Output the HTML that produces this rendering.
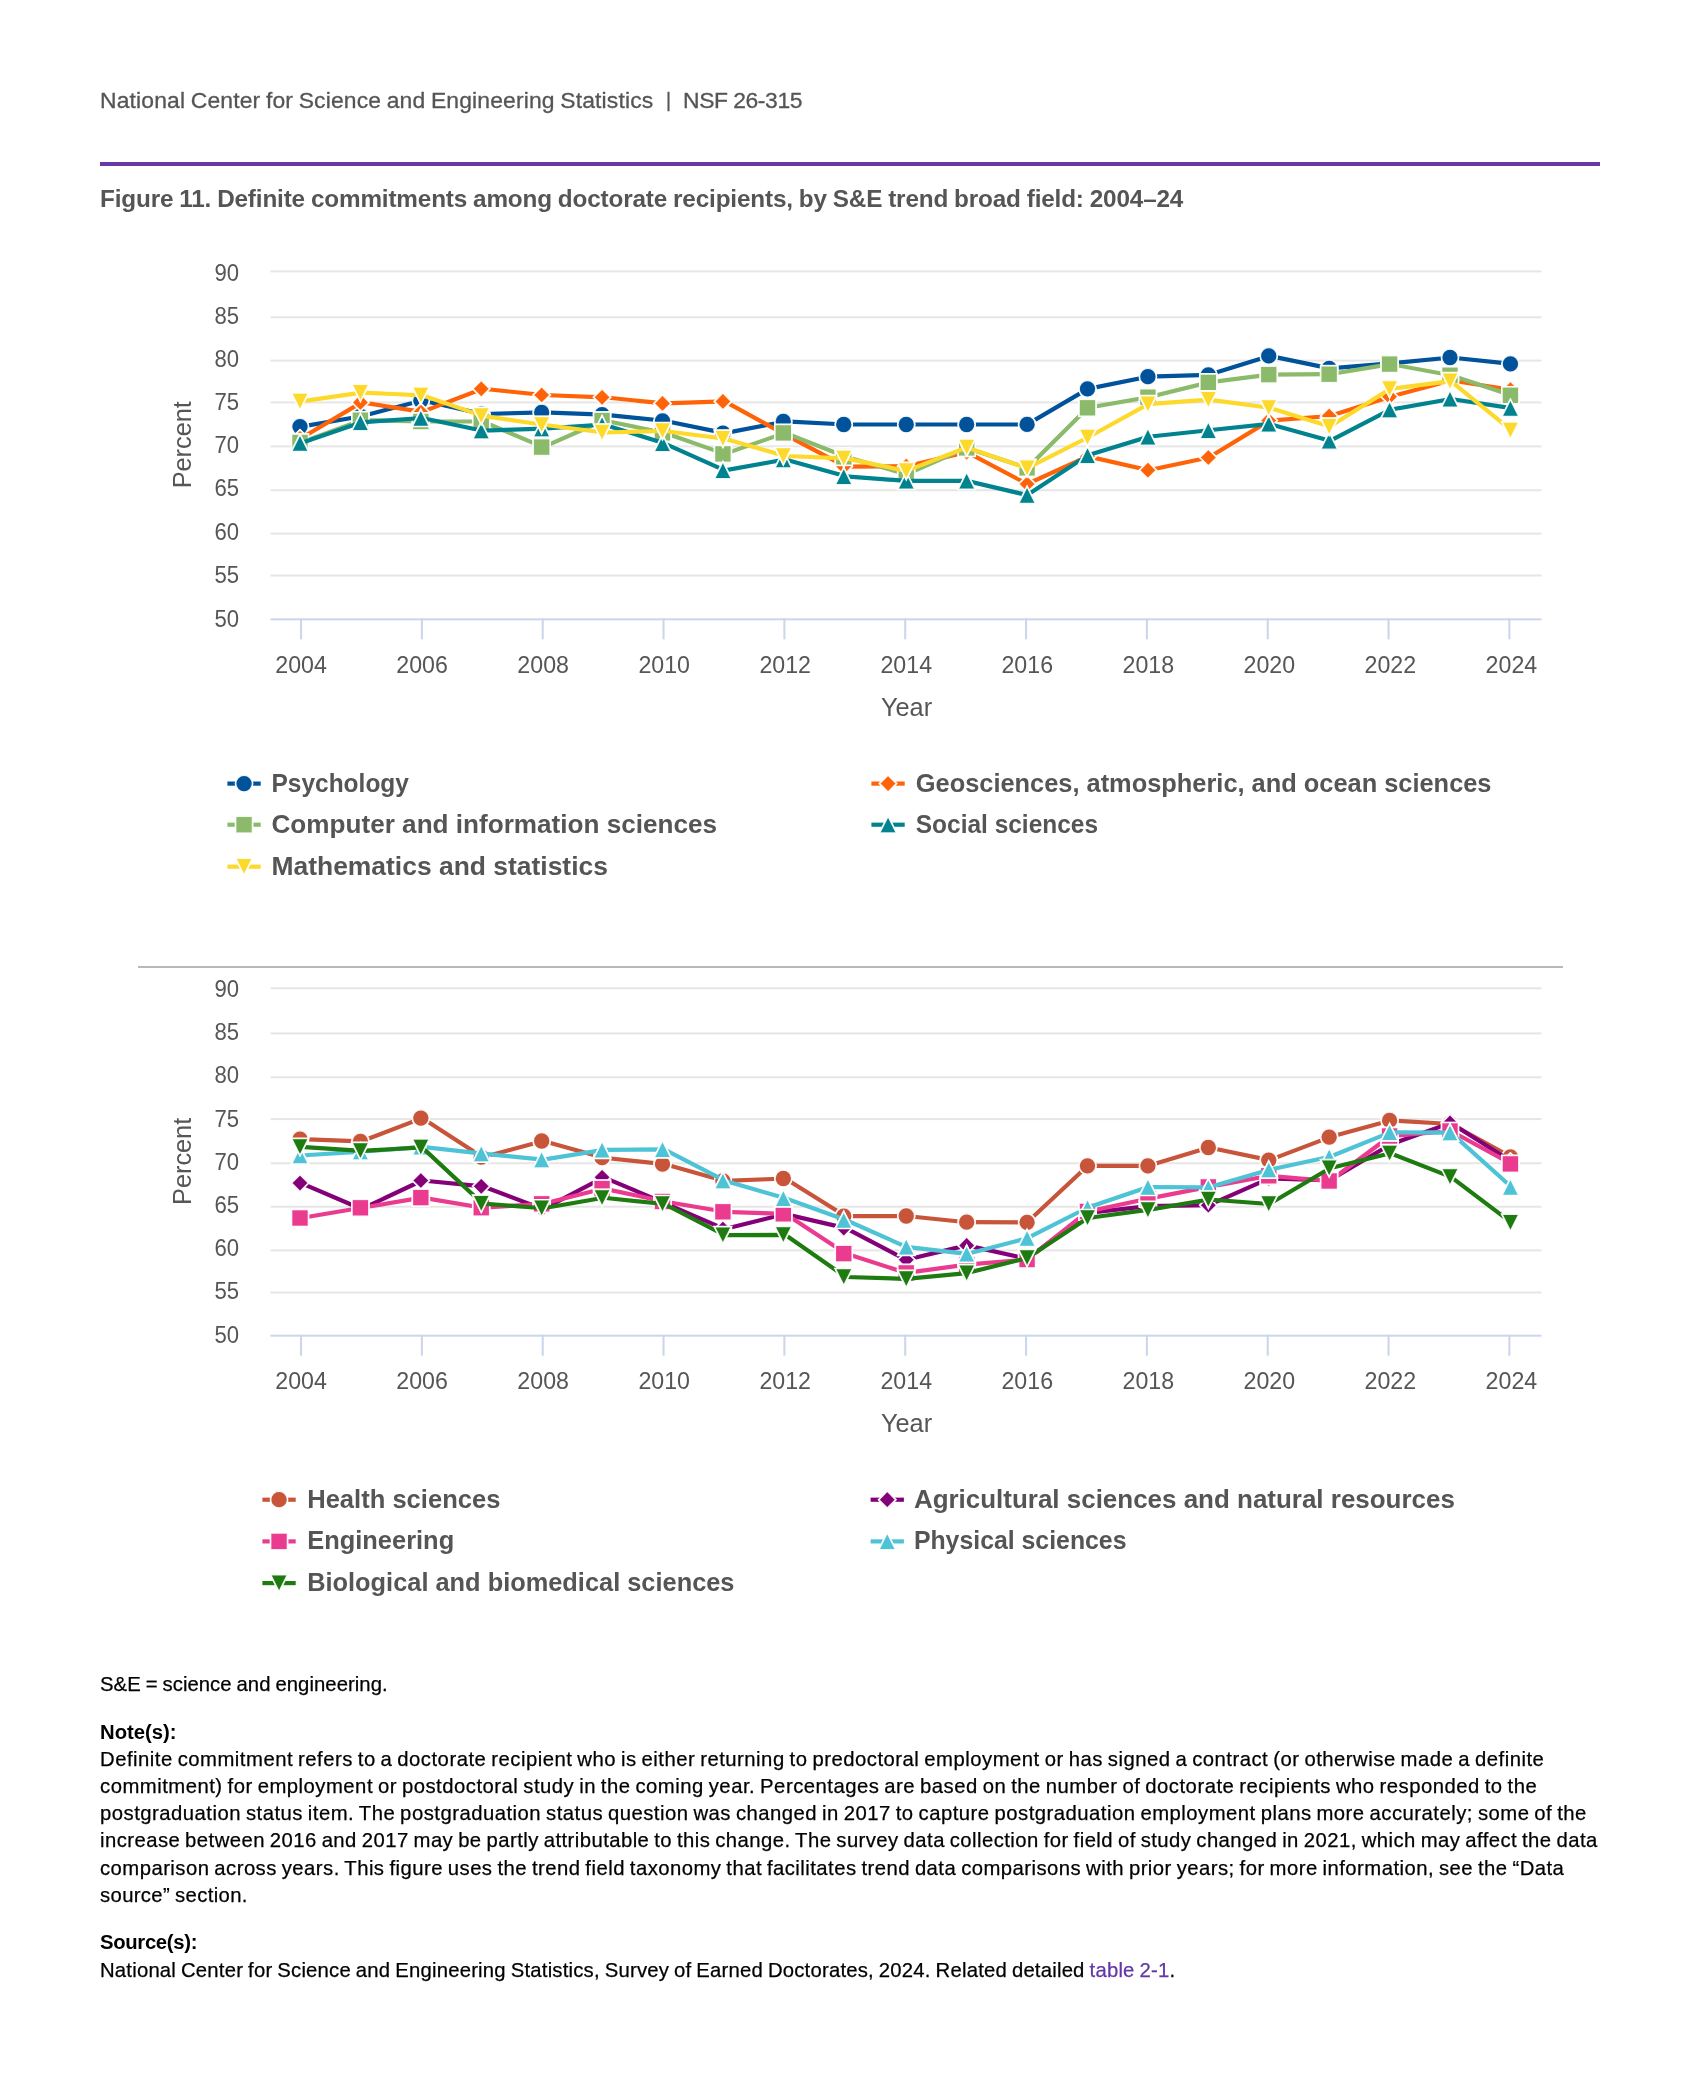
<!DOCTYPE html>
<html lang="en"><head><meta charset="utf-8"><title>Figure 11</title>
<style>
html,body{margin:0;padding:0;background:#fff}
body{width:1699px;height:2090px;position:relative;overflow:hidden;font-family:"Liberation Sans", sans-serif}
.x{position:absolute;margin:0;white-space:nowrap;line-height:1;font-weight:400;will-change:transform}
.n{font-size:20.3px;color:#000;-webkit-text-stroke:0.25px #000}
.nb{font-size:20.3px;color:#000;font-weight:700}
.h{font-size:22.9px;color:#555;-webkit-text-stroke:0.3px #555}
.t{font-size:24.3px;color:#555;font-weight:700}
.hb{font-size:19.3px;color:#555;-webkit-text-stroke:0.3px #555}
a{color:#6236a6;text-decoration:none;-webkit-text-stroke:0.25px #6236a6}
.rule{position:absolute;left:100px;top:162px;width:1500px;height:4px;background:#6639a6}
.sep{position:absolute;left:137.5px;top:965.95px;width:1425px;height:2.08px;background:#b8b8b8}
svg{position:absolute;left:0;top:0;will-change:transform}
svg text{font-family:"Liberation Sans", sans-serif}
.hl{fill:#fff;stroke:#fff;stroke-width:2.08}
.mk{stroke:#fff;stroke-opacity:.88;stroke-width:1.35}
.al{font-size:23.7px;fill:#565656}
.at{font-size:25.5px;fill:#565656}
.lg{font-size:25.6px;font-weight:700;fill:#555}
</style></head><body>
<div class="rule"></div>
<div class="sep"></div>
<svg width="1699" height="2090" viewBox="0 0 1699 2090">
<rect x="270.5" y="270.40" width="1271" height="2" fill="#e6e6e6"/>
<rect x="270.5" y="316.30" width="1271" height="2" fill="#e6e6e6"/>
<rect x="270.5" y="359.60" width="1271" height="2" fill="#e6e6e6"/>
<rect x="270.5" y="401.45" width="1271" height="2" fill="#e6e6e6"/>
<rect x="270.5" y="445.40" width="1271" height="2" fill="#e6e6e6"/>
<rect x="270.5" y="489.20" width="1271" height="2" fill="#e6e6e6"/>
<rect x="270.5" y="532.60" width="1271" height="2" fill="#e6e6e6"/>
<rect x="270.5" y="574.50" width="1271" height="2" fill="#e6e6e6"/>
<rect x="270.5" y="618.35" width="1271" height="2" fill="#ccd6eb"/>
<rect x="300.00" y="618.35" width="2.08" height="21" fill="#ccd6eb"/>
<rect x="420.84" y="618.35" width="2.08" height="21" fill="#ccd6eb"/>
<rect x="541.67" y="618.35" width="2.08" height="21" fill="#ccd6eb"/>
<rect x="662.50" y="618.35" width="2.08" height="21" fill="#ccd6eb"/>
<rect x="783.34" y="618.35" width="2.08" height="21" fill="#ccd6eb"/>
<rect x="904.17" y="618.35" width="2.08" height="21" fill="#ccd6eb"/>
<rect x="1025.00" y="618.35" width="2.08" height="21" fill="#ccd6eb"/>
<rect x="1145.84" y="618.35" width="2.08" height="21" fill="#ccd6eb"/>
<rect x="1266.67" y="618.35" width="2.08" height="21" fill="#ccd6eb"/>
<rect x="1387.50" y="618.35" width="2.08" height="21" fill="#ccd6eb"/>
<rect x="1508.34" y="618.35" width="2.08" height="21" fill="#ccd6eb"/>
<text x="239" y="280.60" text-anchor="end" class="al" textLength="24.6" lengthAdjust="spacingAndGlyphs">90</text>
<text x="239" y="323.60" text-anchor="end" class="al" textLength="24.6" lengthAdjust="spacingAndGlyphs">85</text>
<text x="239" y="366.80" text-anchor="end" class="al" textLength="24.6" lengthAdjust="spacingAndGlyphs">80</text>
<text x="239" y="410.00" text-anchor="end" class="al" textLength="24.6" lengthAdjust="spacingAndGlyphs">75</text>
<text x="239" y="453.40" text-anchor="end" class="al" textLength="24.6" lengthAdjust="spacingAndGlyphs">70</text>
<text x="239" y="496.20" text-anchor="end" class="al" textLength="24.6" lengthAdjust="spacingAndGlyphs">65</text>
<text x="239" y="539.60" text-anchor="end" class="al" textLength="24.6" lengthAdjust="spacingAndGlyphs">60</text>
<text x="239" y="582.80" text-anchor="end" class="al" textLength="24.6" lengthAdjust="spacingAndGlyphs">55</text>
<text x="239" y="626.70" text-anchor="end" class="al" textLength="24.6" lengthAdjust="spacingAndGlyphs">50</text>
<text x="301.09" y="672.75" text-anchor="middle" class="al" textLength="51.6" lengthAdjust="spacingAndGlyphs">2004</text>
<text x="422.12" y="672.75" text-anchor="middle" class="al" textLength="51.6" lengthAdjust="spacingAndGlyphs">2006</text>
<text x="543.16" y="672.75" text-anchor="middle" class="al" textLength="51.6" lengthAdjust="spacingAndGlyphs">2008</text>
<text x="664.19" y="672.75" text-anchor="middle" class="al" textLength="51.6" lengthAdjust="spacingAndGlyphs">2010</text>
<text x="785.22" y="672.75" text-anchor="middle" class="al" textLength="51.6" lengthAdjust="spacingAndGlyphs">2012</text>
<text x="906.25" y="672.75" text-anchor="middle" class="al" textLength="51.6" lengthAdjust="spacingAndGlyphs">2014</text>
<text x="1027.28" y="672.75" text-anchor="middle" class="al" textLength="51.6" lengthAdjust="spacingAndGlyphs">2016</text>
<text x="1148.31" y="672.75" text-anchor="middle" class="al" textLength="51.6" lengthAdjust="spacingAndGlyphs">2018</text>
<text x="1269.35" y="672.75" text-anchor="middle" class="al" textLength="51.6" lengthAdjust="spacingAndGlyphs">2020</text>
<text x="1390.38" y="672.75" text-anchor="middle" class="al" textLength="51.6" lengthAdjust="spacingAndGlyphs">2022</text>
<text x="1511.41" y="672.75" text-anchor="middle" class="al" textLength="51.6" lengthAdjust="spacingAndGlyphs">2024</text>
<text x="906.5" y="715.95" text-anchor="middle" class="at" textLength="51.2" lengthAdjust="spacingAndGlyphs">Year</text>
<text transform="translate(191 444.77) rotate(-90)" text-anchor="middle" class="at" textLength="87.2" lengthAdjust="spacingAndGlyphs">Percent</text>
<path d="M301.09 426.60L361.61 416.20L422.12 400.50L482.64 414.00L543.16 412.40L603.67 414.60L664.19 420.80L724.70 433.10L785.22 421.45L845.73 424.50L906.25 424.50L966.77 424.50L1027.28 424.40L1087.80 388.85L1148.31 376.70L1208.83 374.80L1269.35 355.90L1329.86 368.40L1390.38 363.40L1450.89 357.50L1511.41 363.84" fill="none" stroke="#00529b" stroke-width="4.17" stroke-linejoin="round" stroke-linecap="round"/>
<circle cx="300.00" cy="426.60" r="8.33" class="hl"/><circle cx="300.00" cy="426.60" r="8.33" class="mk" fill="#00529b"/>
<circle cx="360.42" cy="416.20" r="8.33" class="hl"/><circle cx="360.42" cy="416.20" r="8.33" class="mk" fill="#00529b"/>
<circle cx="420.83" cy="400.50" r="8.33" class="hl"/><circle cx="420.83" cy="400.50" r="8.33" class="mk" fill="#00529b"/>
<circle cx="481.25" cy="414.00" r="8.33" class="hl"/><circle cx="481.25" cy="414.00" r="8.33" class="mk" fill="#00529b"/>
<circle cx="541.67" cy="412.40" r="8.33" class="hl"/><circle cx="541.67" cy="412.40" r="8.33" class="mk" fill="#00529b"/>
<circle cx="602.08" cy="414.60" r="8.33" class="hl"/><circle cx="602.08" cy="414.60" r="8.33" class="mk" fill="#00529b"/>
<circle cx="662.50" cy="420.80" r="8.33" class="hl"/><circle cx="662.50" cy="420.80" r="8.33" class="mk" fill="#00529b"/>
<circle cx="722.92" cy="433.10" r="8.33" class="hl"/><circle cx="722.92" cy="433.10" r="8.33" class="mk" fill="#00529b"/>
<circle cx="783.33" cy="421.45" r="8.33" class="hl"/><circle cx="783.33" cy="421.45" r="8.33" class="mk" fill="#00529b"/>
<circle cx="843.75" cy="424.50" r="8.33" class="hl"/><circle cx="843.75" cy="424.50" r="8.33" class="mk" fill="#00529b"/>
<circle cx="906.25" cy="424.50" r="8.33" class="hl"/><circle cx="906.25" cy="424.50" r="8.33" class="mk" fill="#00529b"/>
<circle cx="966.67" cy="424.50" r="8.33" class="hl"/><circle cx="966.67" cy="424.50" r="8.33" class="mk" fill="#00529b"/>
<circle cx="1027.08" cy="424.40" r="8.33" class="hl"/><circle cx="1027.08" cy="424.40" r="8.33" class="mk" fill="#00529b"/>
<circle cx="1087.50" cy="388.85" r="8.33" class="hl"/><circle cx="1087.50" cy="388.85" r="8.33" class="mk" fill="#00529b"/>
<circle cx="1147.92" cy="376.70" r="8.33" class="hl"/><circle cx="1147.92" cy="376.70" r="8.33" class="mk" fill="#00529b"/>
<circle cx="1208.33" cy="374.80" r="8.33" class="hl"/><circle cx="1208.33" cy="374.80" r="8.33" class="mk" fill="#00529b"/>
<circle cx="1268.75" cy="355.90" r="8.33" class="hl"/><circle cx="1268.75" cy="355.90" r="8.33" class="mk" fill="#00529b"/>
<circle cx="1329.17" cy="368.40" r="8.33" class="hl"/><circle cx="1329.17" cy="368.40" r="8.33" class="mk" fill="#00529b"/>
<circle cx="1389.58" cy="363.40" r="8.33" class="hl"/><circle cx="1389.58" cy="363.40" r="8.33" class="mk" fill="#00529b"/>
<circle cx="1450.00" cy="357.50" r="8.33" class="hl"/><circle cx="1450.00" cy="357.50" r="8.33" class="mk" fill="#00529b"/>
<circle cx="1510.42" cy="363.84" r="8.33" class="hl"/><circle cx="1510.42" cy="363.84" r="8.33" class="mk" fill="#00529b"/>
<path d="M301.09 438.30L361.61 402.40L422.12 411.90L482.64 388.80L543.16 395.00L603.67 397.30L664.19 403.40L724.70 401.40L785.22 434.60L845.73 466.60L906.25 466.20L966.77 452.10L1027.28 484.00L1087.80 456.40L1148.31 470.20L1208.83 457.50L1269.35 420.60L1329.86 416.00L1390.38 396.70L1450.89 380.50L1511.41 389.70" fill="none" stroke="#ff6308" stroke-width="4.17" stroke-linejoin="round" stroke-linecap="round"/>
<path d="M300.00 429.97L308.33 438.30L300.00 446.63L291.67 438.30Z" class="hl"/><path d="M300.00 429.97L308.33 438.30L300.00 446.63L291.67 438.30Z" class="mk" fill="#ff6308"/>
<path d="M360.42 394.07L368.75 402.40L360.42 410.73L352.09 402.40Z" class="hl"/><path d="M360.42 394.07L368.75 402.40L360.42 410.73L352.09 402.40Z" class="mk" fill="#ff6308"/>
<path d="M420.83 403.57L429.16 411.90L420.83 420.23L412.50 411.90Z" class="hl"/><path d="M420.83 403.57L429.16 411.90L420.83 420.23L412.50 411.90Z" class="mk" fill="#ff6308"/>
<path d="M481.25 380.47L489.58 388.80L481.25 397.13L472.92 388.80Z" class="hl"/><path d="M481.25 380.47L489.58 388.80L481.25 397.13L472.92 388.80Z" class="mk" fill="#ff6308"/>
<path d="M541.67 386.67L550.00 395.00L541.67 403.33L533.34 395.00Z" class="hl"/><path d="M541.67 386.67L550.00 395.00L541.67 403.33L533.34 395.00Z" class="mk" fill="#ff6308"/>
<path d="M602.08 388.97L610.41 397.30L602.08 405.63L593.75 397.30Z" class="hl"/><path d="M602.08 388.97L610.41 397.30L602.08 405.63L593.75 397.30Z" class="mk" fill="#ff6308"/>
<path d="M662.50 395.07L670.83 403.40L662.50 411.73L654.17 403.40Z" class="hl"/><path d="M662.50 395.07L670.83 403.40L662.50 411.73L654.17 403.40Z" class="mk" fill="#ff6308"/>
<path d="M722.92 393.07L731.25 401.40L722.92 409.73L714.59 401.40Z" class="hl"/><path d="M722.92 393.07L731.25 401.40L722.92 409.73L714.59 401.40Z" class="mk" fill="#ff6308"/>
<path d="M783.33 426.27L791.66 434.60L783.33 442.93L775.00 434.60Z" class="hl"/><path d="M783.33 426.27L791.66 434.60L783.33 442.93L775.00 434.60Z" class="mk" fill="#ff6308"/>
<path d="M843.75 458.27L852.08 466.60L843.75 474.93L835.42 466.60Z" class="hl"/><path d="M843.75 458.27L852.08 466.60L843.75 474.93L835.42 466.60Z" class="mk" fill="#ff6308"/>
<path d="M906.25 457.87L914.58 466.20L906.25 474.53L897.92 466.20Z" class="hl"/><path d="M906.25 457.87L914.58 466.20L906.25 474.53L897.92 466.20Z" class="mk" fill="#ff6308"/>
<path d="M966.67 443.77L975.00 452.10L966.67 460.43L958.34 452.10Z" class="hl"/><path d="M966.67 443.77L975.00 452.10L966.67 460.43L958.34 452.10Z" class="mk" fill="#ff6308"/>
<path d="M1027.08 475.67L1035.41 484.00L1027.08 492.33L1018.75 484.00Z" class="hl"/><path d="M1027.08 475.67L1035.41 484.00L1027.08 492.33L1018.75 484.00Z" class="mk" fill="#ff6308"/>
<path d="M1087.50 448.07L1095.83 456.40L1087.50 464.73L1079.17 456.40Z" class="hl"/><path d="M1087.50 448.07L1095.83 456.40L1087.50 464.73L1079.17 456.40Z" class="mk" fill="#ff6308"/>
<path d="M1147.92 461.87L1156.25 470.20L1147.92 478.53L1139.59 470.20Z" class="hl"/><path d="M1147.92 461.87L1156.25 470.20L1147.92 478.53L1139.59 470.20Z" class="mk" fill="#ff6308"/>
<path d="M1208.33 449.17L1216.66 457.50L1208.33 465.83L1200.00 457.50Z" class="hl"/><path d="M1208.33 449.17L1216.66 457.50L1208.33 465.83L1200.00 457.50Z" class="mk" fill="#ff6308"/>
<path d="M1268.75 412.27L1277.08 420.60L1268.75 428.93L1260.42 420.60Z" class="hl"/><path d="M1268.75 412.27L1277.08 420.60L1268.75 428.93L1260.42 420.60Z" class="mk" fill="#ff6308"/>
<path d="M1329.17 407.67L1337.50 416.00L1329.17 424.33L1320.84 416.00Z" class="hl"/><path d="M1329.17 407.67L1337.50 416.00L1329.17 424.33L1320.84 416.00Z" class="mk" fill="#ff6308"/>
<path d="M1389.58 388.37L1397.91 396.70L1389.58 405.03L1381.25 396.70Z" class="hl"/><path d="M1389.58 388.37L1397.91 396.70L1389.58 405.03L1381.25 396.70Z" class="mk" fill="#ff6308"/>
<path d="M1450.00 372.17L1458.33 380.50L1450.00 388.83L1441.67 380.50Z" class="hl"/><path d="M1450.00 372.17L1458.33 380.50L1450.00 388.83L1441.67 380.50Z" class="mk" fill="#ff6308"/>
<path d="M1510.42 381.37L1518.75 389.70L1510.42 398.03L1502.09 389.70Z" class="hl"/><path d="M1510.42 381.37L1518.75 389.70L1510.42 398.03L1502.09 389.70Z" class="mk" fill="#ff6308"/>
<path d="M301.09 442.50L361.61 420.20L422.12 421.50L482.64 421.50L543.16 447.10L603.67 420.50L664.19 432.80L724.70 453.90L785.22 432.90L845.73 456.80L906.25 474.30L966.77 447.90L1027.28 467.90L1087.80 407.80L1148.31 397.20L1208.83 382.40L1269.35 374.60L1329.86 374.20L1390.38 364.10L1450.89 375.25L1511.41 395.30" fill="none" stroke="#8aba6a" stroke-width="4.17" stroke-linejoin="round" stroke-linecap="round"/>
<rect x="291.67" y="434.17" width="16.66" height="16.66" class="hl"/><rect x="291.67" y="434.17" width="16.66" height="16.66" class="mk" fill="#8aba6a"/>
<rect x="352.09" y="411.87" width="16.66" height="16.66" class="hl"/><rect x="352.09" y="411.87" width="16.66" height="16.66" class="mk" fill="#8aba6a"/>
<rect x="412.50" y="413.17" width="16.66" height="16.66" class="hl"/><rect x="412.50" y="413.17" width="16.66" height="16.66" class="mk" fill="#8aba6a"/>
<rect x="472.92" y="413.17" width="16.66" height="16.66" class="hl"/><rect x="472.92" y="413.17" width="16.66" height="16.66" class="mk" fill="#8aba6a"/>
<rect x="533.34" y="438.77" width="16.66" height="16.66" class="hl"/><rect x="533.34" y="438.77" width="16.66" height="16.66" class="mk" fill="#8aba6a"/>
<rect x="593.75" y="412.17" width="16.66" height="16.66" class="hl"/><rect x="593.75" y="412.17" width="16.66" height="16.66" class="mk" fill="#8aba6a"/>
<rect x="654.17" y="424.47" width="16.66" height="16.66" class="hl"/><rect x="654.17" y="424.47" width="16.66" height="16.66" class="mk" fill="#8aba6a"/>
<rect x="714.59" y="445.57" width="16.66" height="16.66" class="hl"/><rect x="714.59" y="445.57" width="16.66" height="16.66" class="mk" fill="#8aba6a"/>
<rect x="775.00" y="424.57" width="16.66" height="16.66" class="hl"/><rect x="775.00" y="424.57" width="16.66" height="16.66" class="mk" fill="#8aba6a"/>
<rect x="835.42" y="448.47" width="16.66" height="16.66" class="hl"/><rect x="835.42" y="448.47" width="16.66" height="16.66" class="mk" fill="#8aba6a"/>
<rect x="897.92" y="465.97" width="16.66" height="16.66" class="hl"/><rect x="897.92" y="465.97" width="16.66" height="16.66" class="mk" fill="#8aba6a"/>
<rect x="958.34" y="439.57" width="16.66" height="16.66" class="hl"/><rect x="958.34" y="439.57" width="16.66" height="16.66" class="mk" fill="#8aba6a"/>
<rect x="1018.75" y="459.57" width="16.66" height="16.66" class="hl"/><rect x="1018.75" y="459.57" width="16.66" height="16.66" class="mk" fill="#8aba6a"/>
<rect x="1079.17" y="399.47" width="16.66" height="16.66" class="hl"/><rect x="1079.17" y="399.47" width="16.66" height="16.66" class="mk" fill="#8aba6a"/>
<rect x="1139.59" y="388.87" width="16.66" height="16.66" class="hl"/><rect x="1139.59" y="388.87" width="16.66" height="16.66" class="mk" fill="#8aba6a"/>
<rect x="1200.00" y="374.07" width="16.66" height="16.66" class="hl"/><rect x="1200.00" y="374.07" width="16.66" height="16.66" class="mk" fill="#8aba6a"/>
<rect x="1260.42" y="366.27" width="16.66" height="16.66" class="hl"/><rect x="1260.42" y="366.27" width="16.66" height="16.66" class="mk" fill="#8aba6a"/>
<rect x="1320.84" y="365.87" width="16.66" height="16.66" class="hl"/><rect x="1320.84" y="365.87" width="16.66" height="16.66" class="mk" fill="#8aba6a"/>
<rect x="1381.25" y="355.77" width="16.66" height="16.66" class="hl"/><rect x="1381.25" y="355.77" width="16.66" height="16.66" class="mk" fill="#8aba6a"/>
<rect x="1441.67" y="366.92" width="16.66" height="16.66" class="hl"/><rect x="1441.67" y="366.92" width="16.66" height="16.66" class="mk" fill="#8aba6a"/>
<rect x="1502.09" y="386.97" width="16.66" height="16.66" class="hl"/><rect x="1502.09" y="386.97" width="16.66" height="16.66" class="mk" fill="#8aba6a"/>
<path d="M301.09 443.00L361.61 422.30L422.12 418.00L482.64 430.70L543.16 428.70L603.67 424.50L664.19 443.30L724.70 470.40L785.22 459.50L845.73 476.35L906.25 480.90L966.77 480.90L1027.28 495.10L1087.80 455.30L1148.31 436.80L1208.83 430.30L1269.35 423.90L1329.86 440.80L1390.38 409.70L1450.89 398.95L1511.41 408.10" fill="none" stroke="#00838f" stroke-width="4.17" stroke-linejoin="round" stroke-linecap="round"/>
<path d="M300.00 434.67L308.33 451.33L291.67 451.33Z" class="hl"/><path d="M300.00 434.67L308.33 451.33L291.67 451.33Z" class="mk" fill="#00838f"/>
<path d="M360.42 413.97L368.75 430.63L352.09 430.63Z" class="hl"/><path d="M360.42 413.97L368.75 430.63L352.09 430.63Z" class="mk" fill="#00838f"/>
<path d="M420.83 409.67L429.16 426.33L412.50 426.33Z" class="hl"/><path d="M420.83 409.67L429.16 426.33L412.50 426.33Z" class="mk" fill="#00838f"/>
<path d="M481.25 422.37L489.58 439.03L472.92 439.03Z" class="hl"/><path d="M481.25 422.37L489.58 439.03L472.92 439.03Z" class="mk" fill="#00838f"/>
<path d="M541.67 420.37L550.00 437.03L533.34 437.03Z" class="hl"/><path d="M541.67 420.37L550.00 437.03L533.34 437.03Z" class="mk" fill="#00838f"/>
<path d="M602.08 416.17L610.41 432.83L593.75 432.83Z" class="hl"/><path d="M602.08 416.17L610.41 432.83L593.75 432.83Z" class="mk" fill="#00838f"/>
<path d="M662.50 434.97L670.83 451.63L654.17 451.63Z" class="hl"/><path d="M662.50 434.97L670.83 451.63L654.17 451.63Z" class="mk" fill="#00838f"/>
<path d="M722.92 462.07L731.25 478.73L714.59 478.73Z" class="hl"/><path d="M722.92 462.07L731.25 478.73L714.59 478.73Z" class="mk" fill="#00838f"/>
<path d="M783.33 451.17L791.66 467.83L775.00 467.83Z" class="hl"/><path d="M783.33 451.17L791.66 467.83L775.00 467.83Z" class="mk" fill="#00838f"/>
<path d="M843.75 468.02L852.08 484.68L835.42 484.68Z" class="hl"/><path d="M843.75 468.02L852.08 484.68L835.42 484.68Z" class="mk" fill="#00838f"/>
<path d="M906.25 472.57L914.58 489.23L897.92 489.23Z" class="hl"/><path d="M906.25 472.57L914.58 489.23L897.92 489.23Z" class="mk" fill="#00838f"/>
<path d="M966.67 472.57L975.00 489.23L958.34 489.23Z" class="hl"/><path d="M966.67 472.57L975.00 489.23L958.34 489.23Z" class="mk" fill="#00838f"/>
<path d="M1027.08 486.77L1035.41 503.43L1018.75 503.43Z" class="hl"/><path d="M1027.08 486.77L1035.41 503.43L1018.75 503.43Z" class="mk" fill="#00838f"/>
<path d="M1087.50 446.97L1095.83 463.63L1079.17 463.63Z" class="hl"/><path d="M1087.50 446.97L1095.83 463.63L1079.17 463.63Z" class="mk" fill="#00838f"/>
<path d="M1147.92 428.47L1156.25 445.13L1139.59 445.13Z" class="hl"/><path d="M1147.92 428.47L1156.25 445.13L1139.59 445.13Z" class="mk" fill="#00838f"/>
<path d="M1208.33 421.97L1216.66 438.63L1200.00 438.63Z" class="hl"/><path d="M1208.33 421.97L1216.66 438.63L1200.00 438.63Z" class="mk" fill="#00838f"/>
<path d="M1268.75 415.57L1277.08 432.23L1260.42 432.23Z" class="hl"/><path d="M1268.75 415.57L1277.08 432.23L1260.42 432.23Z" class="mk" fill="#00838f"/>
<path d="M1329.17 432.47L1337.50 449.13L1320.84 449.13Z" class="hl"/><path d="M1329.17 432.47L1337.50 449.13L1320.84 449.13Z" class="mk" fill="#00838f"/>
<path d="M1389.58 401.37L1397.91 418.03L1381.25 418.03Z" class="hl"/><path d="M1389.58 401.37L1397.91 418.03L1381.25 418.03Z" class="mk" fill="#00838f"/>
<path d="M1450.00 390.62L1458.33 407.28L1441.67 407.28Z" class="hl"/><path d="M1450.00 390.62L1458.33 407.28L1441.67 407.28Z" class="mk" fill="#00838f"/>
<path d="M1510.42 399.77L1518.75 416.43L1502.09 416.43Z" class="hl"/><path d="M1510.42 399.77L1518.75 416.43L1502.09 416.43Z" class="mk" fill="#00838f"/>
<path d="M301.09 401.40L361.61 392.60L422.12 395.30L482.64 415.90L543.16 424.80L603.67 432.50L664.19 431.00L724.70 438.70L785.22 456.00L845.73 458.40L906.25 470.85L966.77 447.50L1027.28 468.20L1087.80 437.50L1148.31 404.10L1208.83 399.60L1269.35 407.80L1329.86 426.60L1390.38 388.80L1450.89 381.10L1511.41 430.30" fill="none" stroke="#fdd92b" stroke-width="4.17" stroke-linejoin="round" stroke-linecap="round"/>
<path d="M291.67 393.07L308.33 393.07L300.00 409.73Z" class="hl"/><path d="M291.67 393.07L308.33 393.07L300.00 409.73Z" class="mk" fill="#fdd92b"/>
<path d="M352.09 384.27L368.75 384.27L360.42 400.93Z" class="hl"/><path d="M352.09 384.27L368.75 384.27L360.42 400.93Z" class="mk" fill="#fdd92b"/>
<path d="M412.50 386.97L429.16 386.97L420.83 403.63Z" class="hl"/><path d="M412.50 386.97L429.16 386.97L420.83 403.63Z" class="mk" fill="#fdd92b"/>
<path d="M472.92 407.57L489.58 407.57L481.25 424.23Z" class="hl"/><path d="M472.92 407.57L489.58 407.57L481.25 424.23Z" class="mk" fill="#fdd92b"/>
<path d="M533.34 416.47L550.00 416.47L541.67 433.13Z" class="hl"/><path d="M533.34 416.47L550.00 416.47L541.67 433.13Z" class="mk" fill="#fdd92b"/>
<path d="M593.75 424.17L610.41 424.17L602.08 440.83Z" class="hl"/><path d="M593.75 424.17L610.41 424.17L602.08 440.83Z" class="mk" fill="#fdd92b"/>
<path d="M654.17 422.67L670.83 422.67L662.50 439.33Z" class="hl"/><path d="M654.17 422.67L670.83 422.67L662.50 439.33Z" class="mk" fill="#fdd92b"/>
<path d="M714.59 430.37L731.25 430.37L722.92 447.03Z" class="hl"/><path d="M714.59 430.37L731.25 430.37L722.92 447.03Z" class="mk" fill="#fdd92b"/>
<path d="M775.00 447.67L791.66 447.67L783.33 464.33Z" class="hl"/><path d="M775.00 447.67L791.66 447.67L783.33 464.33Z" class="mk" fill="#fdd92b"/>
<path d="M835.42 450.07L852.08 450.07L843.75 466.73Z" class="hl"/><path d="M835.42 450.07L852.08 450.07L843.75 466.73Z" class="mk" fill="#fdd92b"/>
<path d="M897.92 462.52L914.58 462.52L906.25 479.18Z" class="hl"/><path d="M897.92 462.52L914.58 462.52L906.25 479.18Z" class="mk" fill="#fdd92b"/>
<path d="M958.34 439.17L975.00 439.17L966.67 455.83Z" class="hl"/><path d="M958.34 439.17L975.00 439.17L966.67 455.83Z" class="mk" fill="#fdd92b"/>
<path d="M1018.75 459.87L1035.41 459.87L1027.08 476.53Z" class="hl"/><path d="M1018.75 459.87L1035.41 459.87L1027.08 476.53Z" class="mk" fill="#fdd92b"/>
<path d="M1079.17 429.17L1095.83 429.17L1087.50 445.83Z" class="hl"/><path d="M1079.17 429.17L1095.83 429.17L1087.50 445.83Z" class="mk" fill="#fdd92b"/>
<path d="M1139.59 395.77L1156.25 395.77L1147.92 412.43Z" class="hl"/><path d="M1139.59 395.77L1156.25 395.77L1147.92 412.43Z" class="mk" fill="#fdd92b"/>
<path d="M1200.00 391.27L1216.66 391.27L1208.33 407.93Z" class="hl"/><path d="M1200.00 391.27L1216.66 391.27L1208.33 407.93Z" class="mk" fill="#fdd92b"/>
<path d="M1260.42 399.47L1277.08 399.47L1268.75 416.13Z" class="hl"/><path d="M1260.42 399.47L1277.08 399.47L1268.75 416.13Z" class="mk" fill="#fdd92b"/>
<path d="M1320.84 418.27L1337.50 418.27L1329.17 434.93Z" class="hl"/><path d="M1320.84 418.27L1337.50 418.27L1329.17 434.93Z" class="mk" fill="#fdd92b"/>
<path d="M1381.25 380.47L1397.91 380.47L1389.58 397.13Z" class="hl"/><path d="M1381.25 380.47L1397.91 380.47L1389.58 397.13Z" class="mk" fill="#fdd92b"/>
<path d="M1441.67 372.77L1458.33 372.77L1450.00 389.43Z" class="hl"/><path d="M1441.67 372.77L1458.33 372.77L1450.00 389.43Z" class="mk" fill="#fdd92b"/>
<path d="M1502.09 421.97L1518.75 421.97L1510.42 438.63Z" class="hl"/><path d="M1502.09 421.97L1518.75 421.97L1510.42 438.63Z" class="mk" fill="#fdd92b"/>
<rect x="227.40" y="781.52" width="33.3" height="4.17" fill="#00529b"/>
<circle cx="244.05" cy="783.60" r="8.33" class="hl"/><circle cx="244.05" cy="783.60" r="8.33" class="mk" fill="#00529b"/>
<text x="271.50" y="791.50" class="lg" textLength="137.4" lengthAdjust="spacingAndGlyphs">Psychology</text>
<rect x="227.40" y="822.62" width="33.3" height="4.17" fill="#8aba6a"/>
<rect x="235.72" y="816.37" width="16.66" height="16.66" class="hl"/><rect x="235.72" y="816.37" width="16.66" height="16.66" class="mk" fill="#8aba6a"/>
<text x="271.50" y="832.60" class="lg" textLength="445.6" lengthAdjust="spacingAndGlyphs">Computer and information sciences</text>
<rect x="227.40" y="864.62" width="33.3" height="4.17" fill="#fdd92b"/>
<path d="M235.72 858.37L252.38 858.37L244.05 875.03Z" class="hl"/><path d="M235.72 858.37L252.38 858.37L244.05 875.03Z" class="mk" fill="#fdd92b"/>
<text x="271.50" y="874.60" class="lg" textLength="336.4" lengthAdjust="spacingAndGlyphs">Mathematics and statistics</text>
<rect x="871.40" y="781.52" width="33.3" height="4.17" fill="#ff6308"/>
<path d="M888.05 775.27L896.38 783.60L888.05 791.93L879.72 783.60Z" class="hl"/><path d="M888.05 775.27L896.38 783.60L888.05 791.93L879.72 783.60Z" class="mk" fill="#ff6308"/>
<text x="915.80" y="791.50" class="lg" textLength="575.7" lengthAdjust="spacingAndGlyphs">Geosciences, atmospheric, and ocean sciences</text>
<rect x="871.40" y="822.62" width="33.3" height="4.17" fill="#00838f"/>
<path d="M888.05 816.37L896.38 833.03L879.72 833.03Z" class="hl"/><path d="M888.05 816.37L896.38 833.03L879.72 833.03Z" class="mk" fill="#00838f"/>
<text x="915.80" y="832.60" class="lg" textLength="182.2" lengthAdjust="spacingAndGlyphs">Social sciences</text>
<rect x="270.5" y="987.30" width="1271" height="2" fill="#e6e6e6"/>
<rect x="270.5" y="1032.40" width="1271" height="2" fill="#e6e6e6"/>
<rect x="270.5" y="1076.30" width="1271" height="2" fill="#e6e6e6"/>
<rect x="270.5" y="1118.10" width="1271" height="2" fill="#e6e6e6"/>
<rect x="270.5" y="1162.30" width="1271" height="2" fill="#e6e6e6"/>
<rect x="270.5" y="1205.70" width="1271" height="2" fill="#e6e6e6"/>
<rect x="270.5" y="1249.40" width="1271" height="2" fill="#e6e6e6"/>
<rect x="270.5" y="1291.50" width="1271" height="2" fill="#e6e6e6"/>
<rect x="270.5" y="1334.70" width="1271" height="2" fill="#ccd6eb"/>
<rect x="300.00" y="1334.70" width="2.08" height="21" fill="#ccd6eb"/>
<rect x="420.84" y="1334.70" width="2.08" height="21" fill="#ccd6eb"/>
<rect x="541.67" y="1334.70" width="2.08" height="21" fill="#ccd6eb"/>
<rect x="662.50" y="1334.70" width="2.08" height="21" fill="#ccd6eb"/>
<rect x="783.34" y="1334.70" width="2.08" height="21" fill="#ccd6eb"/>
<rect x="904.17" y="1334.70" width="2.08" height="21" fill="#ccd6eb"/>
<rect x="1025.00" y="1334.70" width="2.08" height="21" fill="#ccd6eb"/>
<rect x="1145.84" y="1334.70" width="2.08" height="21" fill="#ccd6eb"/>
<rect x="1266.67" y="1334.70" width="2.08" height="21" fill="#ccd6eb"/>
<rect x="1387.50" y="1334.70" width="2.08" height="21" fill="#ccd6eb"/>
<rect x="1508.34" y="1334.70" width="2.08" height="21" fill="#ccd6eb"/>
<text x="239" y="997.10" text-anchor="end" class="al" textLength="24.6" lengthAdjust="spacingAndGlyphs">90</text>
<text x="239" y="1040.10" text-anchor="end" class="al" textLength="24.6" lengthAdjust="spacingAndGlyphs">85</text>
<text x="239" y="1083.30" text-anchor="end" class="al" textLength="24.6" lengthAdjust="spacingAndGlyphs">80</text>
<text x="239" y="1126.50" text-anchor="end" class="al" textLength="24.6" lengthAdjust="spacingAndGlyphs">75</text>
<text x="239" y="1169.90" text-anchor="end" class="al" textLength="24.6" lengthAdjust="spacingAndGlyphs">70</text>
<text x="239" y="1212.70" text-anchor="end" class="al" textLength="24.6" lengthAdjust="spacingAndGlyphs">65</text>
<text x="239" y="1256.10" text-anchor="end" class="al" textLength="24.6" lengthAdjust="spacingAndGlyphs">60</text>
<text x="239" y="1299.30" text-anchor="end" class="al" textLength="24.6" lengthAdjust="spacingAndGlyphs">55</text>
<text x="239" y="1343.20" text-anchor="end" class="al" textLength="24.6" lengthAdjust="spacingAndGlyphs">50</text>
<text x="301.09" y="1389.10" text-anchor="middle" class="al" textLength="51.6" lengthAdjust="spacingAndGlyphs">2004</text>
<text x="422.12" y="1389.10" text-anchor="middle" class="al" textLength="51.6" lengthAdjust="spacingAndGlyphs">2006</text>
<text x="543.16" y="1389.10" text-anchor="middle" class="al" textLength="51.6" lengthAdjust="spacingAndGlyphs">2008</text>
<text x="664.19" y="1389.10" text-anchor="middle" class="al" textLength="51.6" lengthAdjust="spacingAndGlyphs">2010</text>
<text x="785.22" y="1389.10" text-anchor="middle" class="al" textLength="51.6" lengthAdjust="spacingAndGlyphs">2012</text>
<text x="906.25" y="1389.10" text-anchor="middle" class="al" textLength="51.6" lengthAdjust="spacingAndGlyphs">2014</text>
<text x="1027.28" y="1389.10" text-anchor="middle" class="al" textLength="51.6" lengthAdjust="spacingAndGlyphs">2016</text>
<text x="1148.31" y="1389.10" text-anchor="middle" class="al" textLength="51.6" lengthAdjust="spacingAndGlyphs">2018</text>
<text x="1269.35" y="1389.10" text-anchor="middle" class="al" textLength="51.6" lengthAdjust="spacingAndGlyphs">2020</text>
<text x="1390.38" y="1389.10" text-anchor="middle" class="al" textLength="51.6" lengthAdjust="spacingAndGlyphs">2022</text>
<text x="1511.41" y="1389.10" text-anchor="middle" class="al" textLength="51.6" lengthAdjust="spacingAndGlyphs">2024</text>
<text x="906.5" y="1432.30" text-anchor="middle" class="at" textLength="51.2" lengthAdjust="spacingAndGlyphs">Year</text>
<text transform="translate(191 1161.40) rotate(-90)" text-anchor="middle" class="at" textLength="87.2" lengthAdjust="spacingAndGlyphs">Percent</text>
<path d="M301.09 1139.20L361.61 1141.30L422.12 1118.10L482.64 1157.20L543.16 1141.00L603.67 1157.70L664.19 1164.10L724.70 1180.90L785.22 1178.50L845.73 1216.20L906.25 1216.00L966.77 1222.20L1027.28 1222.30L1087.80 1165.80L1148.31 1165.80L1208.83 1147.50L1269.35 1160.10L1329.86 1137.10L1390.38 1120.40L1450.89 1124.00L1511.41 1157.00" fill="none" stroke="#c8553a" stroke-width="4.17" stroke-linejoin="round" stroke-linecap="round"/>
<circle cx="300.00" cy="1139.20" r="8.33" class="hl"/><circle cx="300.00" cy="1139.20" r="8.33" class="mk" fill="#c8553a"/>
<circle cx="360.42" cy="1141.30" r="8.33" class="hl"/><circle cx="360.42" cy="1141.30" r="8.33" class="mk" fill="#c8553a"/>
<circle cx="420.83" cy="1118.10" r="8.33" class="hl"/><circle cx="420.83" cy="1118.10" r="8.33" class="mk" fill="#c8553a"/>
<circle cx="481.25" cy="1157.20" r="8.33" class="hl"/><circle cx="481.25" cy="1157.20" r="8.33" class="mk" fill="#c8553a"/>
<circle cx="541.67" cy="1141.00" r="8.33" class="hl"/><circle cx="541.67" cy="1141.00" r="8.33" class="mk" fill="#c8553a"/>
<circle cx="602.08" cy="1157.70" r="8.33" class="hl"/><circle cx="602.08" cy="1157.70" r="8.33" class="mk" fill="#c8553a"/>
<circle cx="662.50" cy="1164.10" r="8.33" class="hl"/><circle cx="662.50" cy="1164.10" r="8.33" class="mk" fill="#c8553a"/>
<circle cx="722.92" cy="1180.90" r="8.33" class="hl"/><circle cx="722.92" cy="1180.90" r="8.33" class="mk" fill="#c8553a"/>
<circle cx="783.33" cy="1178.50" r="8.33" class="hl"/><circle cx="783.33" cy="1178.50" r="8.33" class="mk" fill="#c8553a"/>
<circle cx="843.75" cy="1216.20" r="8.33" class="hl"/><circle cx="843.75" cy="1216.20" r="8.33" class="mk" fill="#c8553a"/>
<circle cx="906.25" cy="1216.00" r="8.33" class="hl"/><circle cx="906.25" cy="1216.00" r="8.33" class="mk" fill="#c8553a"/>
<circle cx="966.67" cy="1222.20" r="8.33" class="hl"/><circle cx="966.67" cy="1222.20" r="8.33" class="mk" fill="#c8553a"/>
<circle cx="1027.08" cy="1222.30" r="8.33" class="hl"/><circle cx="1027.08" cy="1222.30" r="8.33" class="mk" fill="#c8553a"/>
<circle cx="1087.50" cy="1165.80" r="8.33" class="hl"/><circle cx="1087.50" cy="1165.80" r="8.33" class="mk" fill="#c8553a"/>
<circle cx="1147.92" cy="1165.80" r="8.33" class="hl"/><circle cx="1147.92" cy="1165.80" r="8.33" class="mk" fill="#c8553a"/>
<circle cx="1208.33" cy="1147.50" r="8.33" class="hl"/><circle cx="1208.33" cy="1147.50" r="8.33" class="mk" fill="#c8553a"/>
<circle cx="1268.75" cy="1160.10" r="8.33" class="hl"/><circle cx="1268.75" cy="1160.10" r="8.33" class="mk" fill="#c8553a"/>
<circle cx="1329.17" cy="1137.10" r="8.33" class="hl"/><circle cx="1329.17" cy="1137.10" r="8.33" class="mk" fill="#c8553a"/>
<circle cx="1389.58" cy="1120.40" r="8.33" class="hl"/><circle cx="1389.58" cy="1120.40" r="8.33" class="mk" fill="#c8553a"/>
<circle cx="1450.00" cy="1124.00" r="8.33" class="hl"/><circle cx="1450.00" cy="1124.00" r="8.33" class="mk" fill="#c8553a"/>
<circle cx="1510.42" cy="1157.00" r="8.33" class="hl"/><circle cx="1510.42" cy="1157.00" r="8.33" class="mk" fill="#c8553a"/>
<path d="M301.09 1183.05L361.61 1209.00L422.12 1180.50L482.64 1186.30L543.16 1209.15L603.67 1177.30L664.19 1202.90L724.70 1229.10L785.22 1214.10L845.73 1228.10L906.25 1259.80L966.77 1245.40L1027.28 1258.80L1087.80 1212.90L1148.31 1206.10L1208.83 1205.20L1269.35 1178.30L1329.86 1180.30L1390.38 1144.50L1450.89 1122.90L1511.41 1161.50" fill="none" stroke="#840078" stroke-width="4.17" stroke-linejoin="round" stroke-linecap="round"/>
<path d="M300.00 1174.72L308.33 1183.05L300.00 1191.38L291.67 1183.05Z" class="hl"/><path d="M300.00 1174.72L308.33 1183.05L300.00 1191.38L291.67 1183.05Z" class="mk" fill="#840078"/>
<path d="M360.42 1200.67L368.75 1209.00L360.42 1217.33L352.09 1209.00Z" class="hl"/><path d="M360.42 1200.67L368.75 1209.00L360.42 1217.33L352.09 1209.00Z" class="mk" fill="#840078"/>
<path d="M420.83 1172.17L429.16 1180.50L420.83 1188.83L412.50 1180.50Z" class="hl"/><path d="M420.83 1172.17L429.16 1180.50L420.83 1188.83L412.50 1180.50Z" class="mk" fill="#840078"/>
<path d="M481.25 1177.97L489.58 1186.30L481.25 1194.63L472.92 1186.30Z" class="hl"/><path d="M481.25 1177.97L489.58 1186.30L481.25 1194.63L472.92 1186.30Z" class="mk" fill="#840078"/>
<path d="M541.67 1200.82L550.00 1209.15L541.67 1217.48L533.34 1209.15Z" class="hl"/><path d="M541.67 1200.82L550.00 1209.15L541.67 1217.48L533.34 1209.15Z" class="mk" fill="#840078"/>
<path d="M602.08 1168.97L610.41 1177.30L602.08 1185.63L593.75 1177.30Z" class="hl"/><path d="M602.08 1168.97L610.41 1177.30L602.08 1185.63L593.75 1177.30Z" class="mk" fill="#840078"/>
<path d="M662.50 1194.57L670.83 1202.90L662.50 1211.23L654.17 1202.90Z" class="hl"/><path d="M662.50 1194.57L670.83 1202.90L662.50 1211.23L654.17 1202.90Z" class="mk" fill="#840078"/>
<path d="M722.92 1220.77L731.25 1229.10L722.92 1237.43L714.59 1229.10Z" class="hl"/><path d="M722.92 1220.77L731.25 1229.10L722.92 1237.43L714.59 1229.10Z" class="mk" fill="#840078"/>
<path d="M783.33 1205.77L791.66 1214.10L783.33 1222.43L775.00 1214.10Z" class="hl"/><path d="M783.33 1205.77L791.66 1214.10L783.33 1222.43L775.00 1214.10Z" class="mk" fill="#840078"/>
<path d="M843.75 1219.77L852.08 1228.10L843.75 1236.43L835.42 1228.10Z" class="hl"/><path d="M843.75 1219.77L852.08 1228.10L843.75 1236.43L835.42 1228.10Z" class="mk" fill="#840078"/>
<path d="M906.25 1251.47L914.58 1259.80L906.25 1268.13L897.92 1259.80Z" class="hl"/><path d="M906.25 1251.47L914.58 1259.80L906.25 1268.13L897.92 1259.80Z" class="mk" fill="#840078"/>
<path d="M966.67 1237.07L975.00 1245.40L966.67 1253.73L958.34 1245.40Z" class="hl"/><path d="M966.67 1237.07L975.00 1245.40L966.67 1253.73L958.34 1245.40Z" class="mk" fill="#840078"/>
<path d="M1027.08 1250.47L1035.41 1258.80L1027.08 1267.13L1018.75 1258.80Z" class="hl"/><path d="M1027.08 1250.47L1035.41 1258.80L1027.08 1267.13L1018.75 1258.80Z" class="mk" fill="#840078"/>
<path d="M1087.50 1204.57L1095.83 1212.90L1087.50 1221.23L1079.17 1212.90Z" class="hl"/><path d="M1087.50 1204.57L1095.83 1212.90L1087.50 1221.23L1079.17 1212.90Z" class="mk" fill="#840078"/>
<path d="M1147.92 1197.77L1156.25 1206.10L1147.92 1214.43L1139.59 1206.10Z" class="hl"/><path d="M1147.92 1197.77L1156.25 1206.10L1147.92 1214.43L1139.59 1206.10Z" class="mk" fill="#840078"/>
<path d="M1208.33 1196.87L1216.66 1205.20L1208.33 1213.53L1200.00 1205.20Z" class="hl"/><path d="M1208.33 1196.87L1216.66 1205.20L1208.33 1213.53L1200.00 1205.20Z" class="mk" fill="#840078"/>
<path d="M1268.75 1169.97L1277.08 1178.30L1268.75 1186.63L1260.42 1178.30Z" class="hl"/><path d="M1268.75 1169.97L1277.08 1178.30L1268.75 1186.63L1260.42 1178.30Z" class="mk" fill="#840078"/>
<path d="M1329.17 1171.97L1337.50 1180.30L1329.17 1188.63L1320.84 1180.30Z" class="hl"/><path d="M1329.17 1171.97L1337.50 1180.30L1329.17 1188.63L1320.84 1180.30Z" class="mk" fill="#840078"/>
<path d="M1389.58 1136.17L1397.91 1144.50L1389.58 1152.83L1381.25 1144.50Z" class="hl"/><path d="M1389.58 1136.17L1397.91 1144.50L1389.58 1152.83L1381.25 1144.50Z" class="mk" fill="#840078"/>
<path d="M1450.00 1114.57L1458.33 1122.90L1450.00 1131.23L1441.67 1122.90Z" class="hl"/><path d="M1450.00 1114.57L1458.33 1122.90L1450.00 1131.23L1441.67 1122.90Z" class="mk" fill="#840078"/>
<path d="M1510.42 1153.17L1518.75 1161.50L1510.42 1169.83L1502.09 1161.50Z" class="hl"/><path d="M1510.42 1153.17L1518.75 1161.50L1510.42 1169.83L1502.09 1161.50Z" class="mk" fill="#840078"/>
<path d="M301.09 1218.00L361.61 1207.80L422.12 1197.60L482.64 1207.70L543.16 1203.80L603.67 1188.60L664.19 1201.50L724.70 1211.80L785.22 1213.80L845.73 1253.60L906.25 1272.90L966.77 1264.60L1027.28 1259.50L1087.80 1211.50L1148.31 1198.60L1208.83 1186.90L1269.35 1175.80L1329.86 1181.00L1390.38 1136.00L1450.89 1131.00L1511.41 1163.90" fill="none" stroke="#ea3b8f" stroke-width="4.17" stroke-linejoin="round" stroke-linecap="round"/>
<rect x="291.67" y="1209.67" width="16.66" height="16.66" class="hl"/><rect x="291.67" y="1209.67" width="16.66" height="16.66" class="mk" fill="#ea3b8f"/>
<rect x="352.09" y="1199.47" width="16.66" height="16.66" class="hl"/><rect x="352.09" y="1199.47" width="16.66" height="16.66" class="mk" fill="#ea3b8f"/>
<rect x="412.50" y="1189.27" width="16.66" height="16.66" class="hl"/><rect x="412.50" y="1189.27" width="16.66" height="16.66" class="mk" fill="#ea3b8f"/>
<rect x="472.92" y="1199.37" width="16.66" height="16.66" class="hl"/><rect x="472.92" y="1199.37" width="16.66" height="16.66" class="mk" fill="#ea3b8f"/>
<rect x="533.34" y="1195.47" width="16.66" height="16.66" class="hl"/><rect x="533.34" y="1195.47" width="16.66" height="16.66" class="mk" fill="#ea3b8f"/>
<rect x="593.75" y="1180.27" width="16.66" height="16.66" class="hl"/><rect x="593.75" y="1180.27" width="16.66" height="16.66" class="mk" fill="#ea3b8f"/>
<rect x="654.17" y="1193.17" width="16.66" height="16.66" class="hl"/><rect x="654.17" y="1193.17" width="16.66" height="16.66" class="mk" fill="#ea3b8f"/>
<rect x="714.59" y="1203.47" width="16.66" height="16.66" class="hl"/><rect x="714.59" y="1203.47" width="16.66" height="16.66" class="mk" fill="#ea3b8f"/>
<rect x="775.00" y="1205.47" width="16.66" height="16.66" class="hl"/><rect x="775.00" y="1205.47" width="16.66" height="16.66" class="mk" fill="#ea3b8f"/>
<rect x="835.42" y="1245.27" width="16.66" height="16.66" class="hl"/><rect x="835.42" y="1245.27" width="16.66" height="16.66" class="mk" fill="#ea3b8f"/>
<rect x="897.92" y="1264.57" width="16.66" height="16.66" class="hl"/><rect x="897.92" y="1264.57" width="16.66" height="16.66" class="mk" fill="#ea3b8f"/>
<rect x="958.34" y="1256.27" width="16.66" height="16.66" class="hl"/><rect x="958.34" y="1256.27" width="16.66" height="16.66" class="mk" fill="#ea3b8f"/>
<rect x="1018.75" y="1251.17" width="16.66" height="16.66" class="hl"/><rect x="1018.75" y="1251.17" width="16.66" height="16.66" class="mk" fill="#ea3b8f"/>
<rect x="1079.17" y="1203.17" width="16.66" height="16.66" class="hl"/><rect x="1079.17" y="1203.17" width="16.66" height="16.66" class="mk" fill="#ea3b8f"/>
<rect x="1139.59" y="1190.27" width="16.66" height="16.66" class="hl"/><rect x="1139.59" y="1190.27" width="16.66" height="16.66" class="mk" fill="#ea3b8f"/>
<rect x="1200.00" y="1178.57" width="16.66" height="16.66" class="hl"/><rect x="1200.00" y="1178.57" width="16.66" height="16.66" class="mk" fill="#ea3b8f"/>
<rect x="1260.42" y="1167.47" width="16.66" height="16.66" class="hl"/><rect x="1260.42" y="1167.47" width="16.66" height="16.66" class="mk" fill="#ea3b8f"/>
<rect x="1320.84" y="1172.67" width="16.66" height="16.66" class="hl"/><rect x="1320.84" y="1172.67" width="16.66" height="16.66" class="mk" fill="#ea3b8f"/>
<rect x="1381.25" y="1127.67" width="16.66" height="16.66" class="hl"/><rect x="1381.25" y="1127.67" width="16.66" height="16.66" class="mk" fill="#ea3b8f"/>
<rect x="1441.67" y="1122.67" width="16.66" height="16.66" class="hl"/><rect x="1441.67" y="1122.67" width="16.66" height="16.66" class="mk" fill="#ea3b8f"/>
<rect x="1502.09" y="1155.57" width="16.66" height="16.66" class="hl"/><rect x="1502.09" y="1155.57" width="16.66" height="16.66" class="mk" fill="#ea3b8f"/>
<path d="M301.09 1155.50L361.61 1151.65L422.12 1146.90L482.64 1153.60L543.16 1159.60L603.67 1149.90L664.19 1149.30L724.70 1180.70L785.22 1198.30L845.73 1220.00L906.25 1246.90L966.77 1253.90L1027.28 1238.20L1087.80 1207.50L1148.31 1187.00L1208.83 1187.30L1269.35 1169.70L1329.86 1156.70L1390.38 1132.40L1450.89 1132.60L1511.41 1187.00" fill="none" stroke="#4fc3d6" stroke-width="4.17" stroke-linejoin="round" stroke-linecap="round"/>
<path d="M300.00 1147.17L308.33 1163.83L291.67 1163.83Z" class="hl"/><path d="M300.00 1147.17L308.33 1163.83L291.67 1163.83Z" class="mk" fill="#4fc3d6"/>
<path d="M360.42 1143.32L368.75 1159.98L352.09 1159.98Z" class="hl"/><path d="M360.42 1143.32L368.75 1159.98L352.09 1159.98Z" class="mk" fill="#4fc3d6"/>
<path d="M420.83 1138.57L429.16 1155.23L412.50 1155.23Z" class="hl"/><path d="M420.83 1138.57L429.16 1155.23L412.50 1155.23Z" class="mk" fill="#4fc3d6"/>
<path d="M481.25 1145.27L489.58 1161.93L472.92 1161.93Z" class="hl"/><path d="M481.25 1145.27L489.58 1161.93L472.92 1161.93Z" class="mk" fill="#4fc3d6"/>
<path d="M541.67 1151.27L550.00 1167.93L533.34 1167.93Z" class="hl"/><path d="M541.67 1151.27L550.00 1167.93L533.34 1167.93Z" class="mk" fill="#4fc3d6"/>
<path d="M602.08 1141.57L610.41 1158.23L593.75 1158.23Z" class="hl"/><path d="M602.08 1141.57L610.41 1158.23L593.75 1158.23Z" class="mk" fill="#4fc3d6"/>
<path d="M662.50 1140.97L670.83 1157.63L654.17 1157.63Z" class="hl"/><path d="M662.50 1140.97L670.83 1157.63L654.17 1157.63Z" class="mk" fill="#4fc3d6"/>
<path d="M722.92 1172.37L731.25 1189.03L714.59 1189.03Z" class="hl"/><path d="M722.92 1172.37L731.25 1189.03L714.59 1189.03Z" class="mk" fill="#4fc3d6"/>
<path d="M783.33 1189.97L791.66 1206.63L775.00 1206.63Z" class="hl"/><path d="M783.33 1189.97L791.66 1206.63L775.00 1206.63Z" class="mk" fill="#4fc3d6"/>
<path d="M843.75 1211.67L852.08 1228.33L835.42 1228.33Z" class="hl"/><path d="M843.75 1211.67L852.08 1228.33L835.42 1228.33Z" class="mk" fill="#4fc3d6"/>
<path d="M906.25 1238.57L914.58 1255.23L897.92 1255.23Z" class="hl"/><path d="M906.25 1238.57L914.58 1255.23L897.92 1255.23Z" class="mk" fill="#4fc3d6"/>
<path d="M966.67 1245.57L975.00 1262.23L958.34 1262.23Z" class="hl"/><path d="M966.67 1245.57L975.00 1262.23L958.34 1262.23Z" class="mk" fill="#4fc3d6"/>
<path d="M1027.08 1229.87L1035.41 1246.53L1018.75 1246.53Z" class="hl"/><path d="M1027.08 1229.87L1035.41 1246.53L1018.75 1246.53Z" class="mk" fill="#4fc3d6"/>
<path d="M1087.50 1199.17L1095.83 1215.83L1079.17 1215.83Z" class="hl"/><path d="M1087.50 1199.17L1095.83 1215.83L1079.17 1215.83Z" class="mk" fill="#4fc3d6"/>
<path d="M1147.92 1178.67L1156.25 1195.33L1139.59 1195.33Z" class="hl"/><path d="M1147.92 1178.67L1156.25 1195.33L1139.59 1195.33Z" class="mk" fill="#4fc3d6"/>
<path d="M1208.33 1178.97L1216.66 1195.63L1200.00 1195.63Z" class="hl"/><path d="M1208.33 1178.97L1216.66 1195.63L1200.00 1195.63Z" class="mk" fill="#4fc3d6"/>
<path d="M1268.75 1161.37L1277.08 1178.03L1260.42 1178.03Z" class="hl"/><path d="M1268.75 1161.37L1277.08 1178.03L1260.42 1178.03Z" class="mk" fill="#4fc3d6"/>
<path d="M1329.17 1148.37L1337.50 1165.03L1320.84 1165.03Z" class="hl"/><path d="M1329.17 1148.37L1337.50 1165.03L1320.84 1165.03Z" class="mk" fill="#4fc3d6"/>
<path d="M1389.58 1124.07L1397.91 1140.73L1381.25 1140.73Z" class="hl"/><path d="M1389.58 1124.07L1397.91 1140.73L1381.25 1140.73Z" class="mk" fill="#4fc3d6"/>
<path d="M1450.00 1124.27L1458.33 1140.93L1441.67 1140.93Z" class="hl"/><path d="M1450.00 1124.27L1458.33 1140.93L1441.67 1140.93Z" class="mk" fill="#4fc3d6"/>
<path d="M1510.42 1178.67L1518.75 1195.33L1502.09 1195.33Z" class="hl"/><path d="M1510.42 1178.67L1518.75 1195.33L1502.09 1195.33Z" class="mk" fill="#4fc3d6"/>
<path d="M301.09 1146.90L361.61 1150.90L422.12 1147.40L482.64 1203.70L543.16 1208.25L603.67 1197.80L664.19 1204.00L724.70 1235.05L785.22 1234.80L845.73 1277.00L906.25 1278.90L966.77 1273.10L1027.28 1257.90L1087.80 1218.00L1148.31 1209.90L1208.83 1199.50L1269.35 1204.00L1329.86 1168.20L1390.38 1153.30L1450.89 1176.85L1511.41 1222.70" fill="none" stroke="#1e7b10" stroke-width="4.17" stroke-linejoin="round" stroke-linecap="round"/>
<path d="M291.67 1138.57L308.33 1138.57L300.00 1155.23Z" class="hl"/><path d="M291.67 1138.57L308.33 1138.57L300.00 1155.23Z" class="mk" fill="#1e7b10"/>
<path d="M352.09 1142.57L368.75 1142.57L360.42 1159.23Z" class="hl"/><path d="M352.09 1142.57L368.75 1142.57L360.42 1159.23Z" class="mk" fill="#1e7b10"/>
<path d="M412.50 1139.07L429.16 1139.07L420.83 1155.73Z" class="hl"/><path d="M412.50 1139.07L429.16 1139.07L420.83 1155.73Z" class="mk" fill="#1e7b10"/>
<path d="M472.92 1195.37L489.58 1195.37L481.25 1212.03Z" class="hl"/><path d="M472.92 1195.37L489.58 1195.37L481.25 1212.03Z" class="mk" fill="#1e7b10"/>
<path d="M533.34 1199.92L550.00 1199.92L541.67 1216.58Z" class="hl"/><path d="M533.34 1199.92L550.00 1199.92L541.67 1216.58Z" class="mk" fill="#1e7b10"/>
<path d="M593.75 1189.47L610.41 1189.47L602.08 1206.13Z" class="hl"/><path d="M593.75 1189.47L610.41 1189.47L602.08 1206.13Z" class="mk" fill="#1e7b10"/>
<path d="M654.17 1195.67L670.83 1195.67L662.50 1212.33Z" class="hl"/><path d="M654.17 1195.67L670.83 1195.67L662.50 1212.33Z" class="mk" fill="#1e7b10"/>
<path d="M714.59 1226.72L731.25 1226.72L722.92 1243.38Z" class="hl"/><path d="M714.59 1226.72L731.25 1226.72L722.92 1243.38Z" class="mk" fill="#1e7b10"/>
<path d="M775.00 1226.47L791.66 1226.47L783.33 1243.13Z" class="hl"/><path d="M775.00 1226.47L791.66 1226.47L783.33 1243.13Z" class="mk" fill="#1e7b10"/>
<path d="M835.42 1268.67L852.08 1268.67L843.75 1285.33Z" class="hl"/><path d="M835.42 1268.67L852.08 1268.67L843.75 1285.33Z" class="mk" fill="#1e7b10"/>
<path d="M897.92 1270.57L914.58 1270.57L906.25 1287.23Z" class="hl"/><path d="M897.92 1270.57L914.58 1270.57L906.25 1287.23Z" class="mk" fill="#1e7b10"/>
<path d="M958.34 1264.77L975.00 1264.77L966.67 1281.43Z" class="hl"/><path d="M958.34 1264.77L975.00 1264.77L966.67 1281.43Z" class="mk" fill="#1e7b10"/>
<path d="M1018.75 1249.57L1035.41 1249.57L1027.08 1266.23Z" class="hl"/><path d="M1018.75 1249.57L1035.41 1249.57L1027.08 1266.23Z" class="mk" fill="#1e7b10"/>
<path d="M1079.17 1209.67L1095.83 1209.67L1087.50 1226.33Z" class="hl"/><path d="M1079.17 1209.67L1095.83 1209.67L1087.50 1226.33Z" class="mk" fill="#1e7b10"/>
<path d="M1139.59 1201.57L1156.25 1201.57L1147.92 1218.23Z" class="hl"/><path d="M1139.59 1201.57L1156.25 1201.57L1147.92 1218.23Z" class="mk" fill="#1e7b10"/>
<path d="M1200.00 1191.17L1216.66 1191.17L1208.33 1207.83Z" class="hl"/><path d="M1200.00 1191.17L1216.66 1191.17L1208.33 1207.83Z" class="mk" fill="#1e7b10"/>
<path d="M1260.42 1195.67L1277.08 1195.67L1268.75 1212.33Z" class="hl"/><path d="M1260.42 1195.67L1277.08 1195.67L1268.75 1212.33Z" class="mk" fill="#1e7b10"/>
<path d="M1320.84 1159.87L1337.50 1159.87L1329.17 1176.53Z" class="hl"/><path d="M1320.84 1159.87L1337.50 1159.87L1329.17 1176.53Z" class="mk" fill="#1e7b10"/>
<path d="M1381.25 1144.97L1397.91 1144.97L1389.58 1161.63Z" class="hl"/><path d="M1381.25 1144.97L1397.91 1144.97L1389.58 1161.63Z" class="mk" fill="#1e7b10"/>
<path d="M1441.67 1168.52L1458.33 1168.52L1450.00 1185.18Z" class="hl"/><path d="M1441.67 1168.52L1458.33 1168.52L1450.00 1185.18Z" class="mk" fill="#1e7b10"/>
<path d="M1502.09 1214.37L1518.75 1214.37L1510.42 1231.03Z" class="hl"/><path d="M1502.09 1214.37L1518.75 1214.37L1510.42 1231.03Z" class="mk" fill="#1e7b10"/>
<rect x="262.40" y="1497.62" width="33.3" height="4.17" fill="#c8553a"/>
<circle cx="279.05" cy="1499.70" r="8.33" class="hl"/><circle cx="279.05" cy="1499.70" r="8.33" class="mk" fill="#c8553a"/>
<text x="307.20" y="1507.60" class="lg" textLength="193.2" lengthAdjust="spacingAndGlyphs">Health sciences</text>
<rect x="262.40" y="1539.32" width="33.3" height="4.17" fill="#ea3b8f"/>
<rect x="270.72" y="1533.07" width="16.66" height="16.66" class="hl"/><rect x="270.72" y="1533.07" width="16.66" height="16.66" class="mk" fill="#ea3b8f"/>
<text x="307.20" y="1549.30" class="lg" textLength="147.0" lengthAdjust="spacingAndGlyphs">Engineering</text>
<rect x="262.40" y="1581.02" width="33.3" height="4.17" fill="#1e7b10"/>
<path d="M270.72 1574.77L287.38 1574.77L279.05 1591.43Z" class="hl"/><path d="M270.72 1574.77L287.38 1574.77L279.05 1591.43Z" class="mk" fill="#1e7b10"/>
<text x="307.20" y="1591.00" class="lg" textLength="427.3" lengthAdjust="spacingAndGlyphs">Biological and biomedical sciences</text>
<rect x="870.60" y="1497.62" width="33.3" height="4.17" fill="#840078"/>
<path d="M887.25 1491.37L895.58 1499.70L887.25 1508.03L878.92 1499.70Z" class="hl"/><path d="M887.25 1491.37L895.58 1499.70L887.25 1508.03L878.92 1499.70Z" class="mk" fill="#840078"/>
<text x="913.90" y="1507.60" class="lg" textLength="541.0" lengthAdjust="spacingAndGlyphs">Agricultural sciences and natural resources</text>
<rect x="870.60" y="1539.32" width="33.3" height="4.17" fill="#4fc3d6"/>
<path d="M887.25 1533.07L895.58 1549.73L878.92 1549.73Z" class="hl"/><path d="M887.25 1533.07L895.58 1549.73L878.92 1549.73Z" class="mk" fill="#4fc3d6"/>
<text x="913.90" y="1549.30" class="lg" textLength="212.6" lengthAdjust="spacingAndGlyphs">Physical sciences</text>
</svg>
<div class="x h" id="l0" style="left:100.3px;top:89.17px;letter-spacing:0.154px;word-spacing:-0.976px">National Center for Science and Engineering Statistics</div>
<div class="x hb" id="l1" style="left:665.8px;top:90.96px;letter-spacing:-0.016px;word-spacing:-0.573px">|</div>
<div class="x h" id="l2" style="left:683.4px;top:89.17px;letter-spacing:-0.389px;word-spacing:-0.433px">NSF 26-315</div>
<h1 class="x t" id="l3" style="left:99.9px;top:186.83px;letter-spacing:-0.158px;word-spacing:-0.657px">Figure 11. Definite commitments among doctorate recipients, by S&amp;E trend broad field: 2004&ndash;24</h1>
<p class="x n" id="l4" style="left:100.0px;top:1674.22px;letter-spacing:0.048px;word-spacing:-0.742px">S&amp;E = science and engineering.</p>
<p class="x nb" id="l5" style="left:100.0px;top:1722.02px;letter-spacing:-0.001px;word-spacing:-0.692px">Note(s):</p>
<p class="x n" id="l6" style="left:100.0px;top:1748.92px;letter-spacing:0.495px;word-spacing:-1.189px">Definite commitment refers to a doctorate recipient who is either returning to predoctoral employment or has signed a contract (or otherwise made a definite</p>
<p class="x n" id="l7" style="left:100.0px;top:1776.07px;letter-spacing:0.492px;word-spacing:-1.185px">commitment) for employment or postdoctoral study in the coming year. Percentages are based on the number of doctorate recipients who responded to the</p>
<p class="x n" id="l8" style="left:100.0px;top:1803.22px;letter-spacing:0.483px;word-spacing:-1.176px">postgraduation status item. The postgraduation status question was changed in 2017 to capture postgraduation employment plans more accurately; some of the</p>
<p class="x n" id="l9" style="left:100.0px;top:1830.37px;letter-spacing:0.440px;word-spacing:-1.133px">increase between 2016 and 2017 may be partly attributable to this change. The survey data collection for field of study changed in 2021, which may affect the data</p>
<p class="x n" id="l10" style="left:100.0px;top:1857.52px;letter-spacing:0.457px;word-spacing:-1.151px">comparison across years. This figure uses the trend field taxonomy that facilitates trend data comparisons with prior years; for more information, see the &ldquo;Data</p>
<p class="x n" id="l11" style="left:100.0px;top:1884.67px;letter-spacing:0.355px;word-spacing:-1.048px">source&rdquo; section.</p>
<p class="x nb" id="l12" style="left:100.0px;top:1932.12px;letter-spacing:-0.321px;word-spacing:-0.372px">Source(s):</p>
<p class="x n" id="l13" style="left:100.0px;top:1959.52px;letter-spacing:0.208px;word-spacing:-0.901px">National Center for Science and Engineering Statistics, Survey of Earned Doctorates, 2024. Related detailed <a href="#table-2-1">table 2-1</a>.</p>
</body></html>
